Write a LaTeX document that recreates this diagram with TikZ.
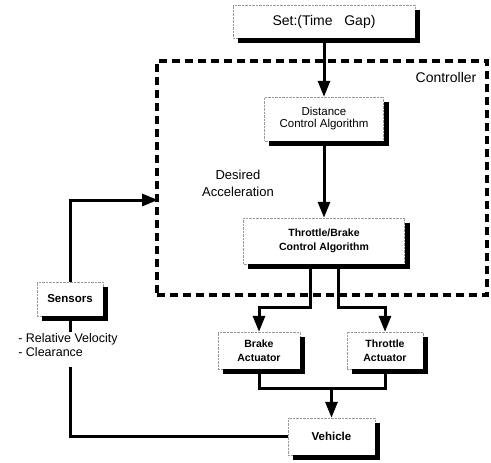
\documentclass[tikz,border=0pt]{standalone}
\usepackage{fontspec}
\setmainfont{Liberation Sans}
\usetikzlibrary{arrows.meta,calc}

\begin{document}
\begin{tikzpicture}[x=1pt,y=-1pt,
  blk/.style={draw=black!40,densely dotted,line width=0.4pt,fill=white,align=center,inner sep=0pt},
  sig/.style={line width=3pt},
  arr/.style={sig,-{Triangle[width=12pt,length=16pt]}}]
 \useasboundingbox (0,0) rectangle (491,463);
 % controller frame
 \node[draw,line width=3.4pt,dash pattern=on 8pt off 5pt,minimum width=330pt,minimum height=234pt,inner sep=0pt] (ctrl) at (322,178) {};
 \node[font=\fontsize{14}{16}\selectfont] (ctrllab) at (446,77) {Controller};
 \node[align=center,font=\fontsize{13}{17}\selectfont] (acc) at (238,183) {Desired\\Acceleration};
 % blocks
 \node[blk,minimum width=182pt,minimum height=33pt,font=\fontsize{14}{16}\selectfont] (set) at (324,21.5) {Set:(Time\ \ \ Gap)};
 \node[blk,minimum width=119pt,minimum height=44pt,font=\fontsize{11.5}{12}\selectfont] (dist) at (324,119) {Distance\\Control Algorithm};
 \node[blk,minimum width=161pt,minimum height=46pt,font=\fontsize{10.5}{14}\selectfont\bfseries] (tb) at (324,241) {Throttle/Brake\\Control Algorithm};
 \node[blk,minimum width=66pt,minimum height=34pt,font=\fontsize{11.5}{14}\selectfont\bfseries] (sens) at (70,299) {Sensors};
 \node[blk,minimum width=82pt,minimum height=37pt,font=\fontsize{10.5}{14}\selectfont\bfseries] (brake) at (259,350.5) {Brake\\Actuator};
 \node[blk,minimum width=76pt,minimum height=37pt,font=\fontsize{10.5}{14}\selectfont\bfseries] (thr) at (385,350.5) {Throttle\\Actuator};
 \node[blk,minimum width=87pt,minimum height=37pt,font=\fontsize{11.5}{14}\selectfont\bfseries] (veh) at (331.5,436.5) {Vehicle};
 \node[align=left,font=\fontsize{12.5}{14}\selectfont] (meas) at (68,345) {- Relative Velocity\\- Clearance};
 % black shadows on right and bottom of the blocks
 \foreach \n in {set,dist,tb,sens,brake,thr,veh}{
  \path (\n.south west) coordinate (sw) (\n.north east) coordinate (ne) (\n.south east) coordinate (se);
  \fill[black] ($(sw)+(5pt,0pt)$) rectangle ($(se)+(5pt,-5pt)$);
  \fill[black] (se) rectangle ($(ne)+(5pt,-5pt)$);
 }
 % signal paths
 \draw[arr] (set) -- (dist);
 \draw[arr] (dist) -- (tb);
 \coordinate (fb) at (158,200);
 \draw[arr] (sens.north) |- (fb);
 \coordinate (mtop) at (70,332);
 \coordinate (mbot) at (70,367);
 \draw[sig] (sens.south) -- (mtop);
 \draw[sig] (mbot) |- (veh.west);
 \draw[arr] ([xshift=-14pt]tb.south) -- ++(0,43) -| (brake.north);
 \draw[arr] ([xshift=14pt]tb.south) -- ++(0,43) -| (thr.north);
 \draw[sig] (brake.south) -- ++(0,19) -| (thr.south);
 \coordinate (join) at (331.5,388);
 \draw[arr] (join) -- (veh.north);
\end{tikzpicture}
\end{document}
